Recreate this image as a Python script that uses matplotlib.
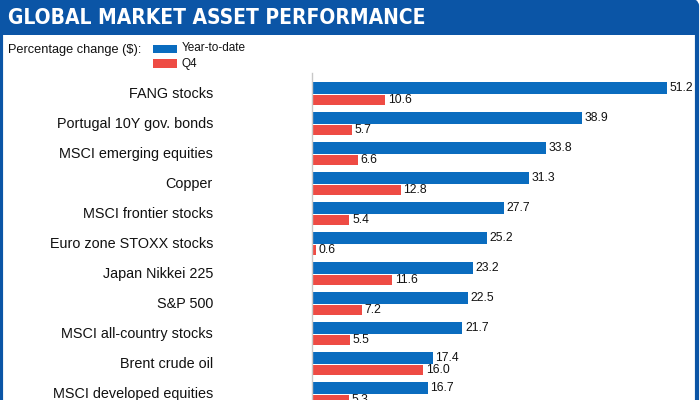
import matplotlib.pyplot as plt
from matplotlib.patches import FancyBboxPatch, Rectangle
from matplotlib.transforms import blended_transform_factory

categories = ["FANG stocks", "Portugal 10Y gov. bonds", "MSCI emerging equities",
              "Copper", "MSCI frontier stocks", "Euro zone STOXX stocks",
              "Japan Nikkei 225", "S&P 500", "MSCI all-country stocks",
              "Brent crude oil", "MSCI developed equities"]
ytd = [51.2, 38.9, 33.8, 31.3, 27.7, 25.2, 23.2, 22.5, 21.7, 17.4, 16.7]
q4 = [10.6, 5.7, 6.6, 12.8, 5.4, 0.6, 11.6, 7.2, 5.5, 16.0, 5.3]

blue = '#0a6cbf'
red = '#ee4b44'
frame_blue = '#0b55a6'

W, H = 700, 400
fig = plt.figure(figsize=(7, 4), dpi=100)
fig.patch.set_facecolor('white')

def px(x, y):
    # pixel coords (from top-left) -> figure fraction
    return x / W, 1 - y / H

# outer frame
frame = FancyBboxPatch(px(1, 420), 696 / W, 420 / H,
                       boxstyle="round,pad=0,rounding_size=0.015",
                       transform=fig.transFigure, facecolor='white',
                       edgecolor=frame_blue, linewidth=3, zorder=-2)
fig.patches.append(frame)
# title bar
bar = FancyBboxPatch(px(0, 35), 697 / W, 35 / H,
                     boxstyle="round,pad=0,rounding_size=0.015",
                     transform=fig.transFigure, facecolor=frame_blue,
                     edgecolor='none', zorder=-1)
fig.patches.append(bar)
fig.patches.append(Rectangle(px(0, 35), 697 / W, 15 / H, transform=fig.transFigure,
                             facecolor=frame_blue, edgecolor='none', zorder=-1))
fig.patches.append(Rectangle(px(0, 35), 12 / W, 35 / H, transform=fig.transFigure,
                             facecolor=frame_blue, edgecolor='none', zorder=-1))

fig.text(*px(8, 18), "GLOBAL MARKET ASSET PERFORMANCE", color='white',
         fontsize=15, fontweight='bold', family='DejaVu Sans', fontstretch='condensed',
         va='center', ha='left', zorder=2)

fig.text(*px(8, 50), "Percentage change ($):", fontsize=9.2,
         family='Liberation Sans', va='center', ha='left', color='#111111')

# legend
fig.patches.append(Rectangle(px(153, 53), 24 / W, 8 / H, transform=fig.transFigure,
                             facecolor=blue, edgecolor='none'))
fig.patches.append(Rectangle(px(153, 68), 24 / W, 9 / H, transform=fig.transFigure,
                             facecolor=red, edgecolor='none'))
fig.text(*px(182, 48), "Year-to-date", fontsize=8.5, family='Liberation Sans',
         va='center', ha='left', color='#111111')
fig.text(*px(182, 64), "Q4", fontsize=8.5, family='Liberation Sans',
         va='center', ha='left', color='#111111')

# bar axes
x0, x1 = 312, 690
y_top, y_bot = 73, 400
ax = fig.add_axes([x0 / W, 1 - y_bot / H, (x1 - x0) / W, (y_bot - y_top) / H])
ax.set_zorder(5)
ax.set_facecolor('none')
scale = 6.93  # pixels per percent
pitch = 30.0
ax.set_xlim(0, (x1 - x0) / scale)
ax.set_ylim((y_bot - 94) / pitch, (y_top - 94) / pitch)

pos = list(range(len(categories)))
ax.barh([p - 0.19 for p in pos], ytd, height=0.39, color=blue)
ax.barh([p + 0.2 for p in pos], q4, height=0.34, color=red)

for p, v in zip(pos, ytd):
    ax.text(v + 0.4, p - 0.19, f"{v:.1f}", va='center', ha='left', fontsize=8.7,
            family='Liberation Sans', color='#111111')
for p, v in zip(pos, q4):
    ax.text(v + 0.4, p + 0.2, f"{v:.1f}", va='center', ha='left', fontsize=8.7,
            family='Liberation Sans', color='#111111')

trans = blended_transform_factory(fig.transFigure, ax.transData)
for p, c in zip(pos, categories):
    ax.text(213 / W, p, c, transform=trans, ha='right', va='center', fontsize=10.4,
            family='Liberation Sans', color='#111111')

for s in ['top', 'right', 'bottom']:
    ax.spines[s].set_visible(False)
ax.spines['left'].set_color('#c8c8c8')
ax.spines['left'].set_linewidth(1)
ax.set_xticks([])
ax.set_yticks([])

fig.savefig('out.png', dpi=100)
